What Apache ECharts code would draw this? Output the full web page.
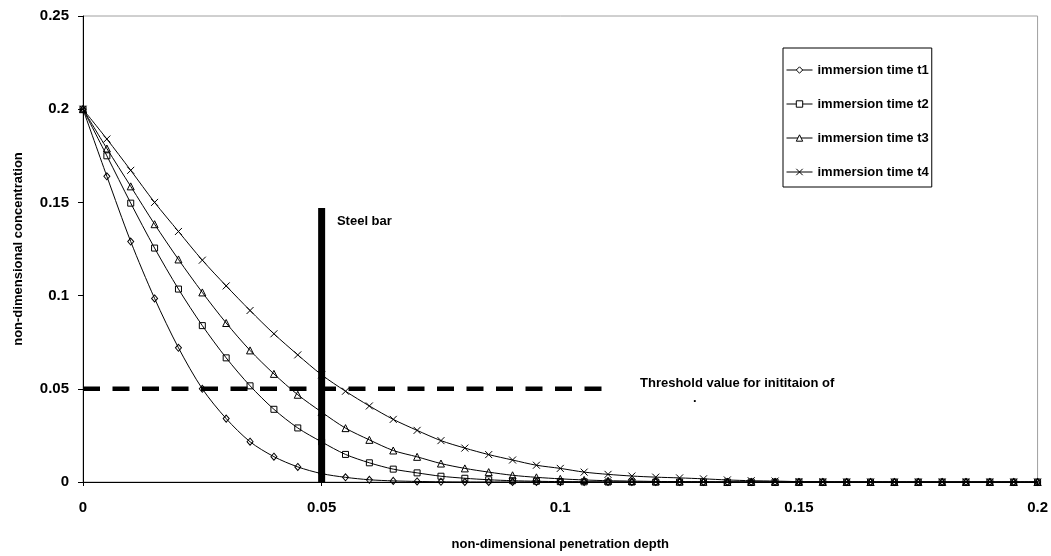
<!DOCTYPE html>
<html>
<head>
<meta charset="utf-8">
<script src="https://cdn.jsdelivr.net/npm/echarts@6/dist/echarts.min.js"></script>
<style>
  html, body { margin: 0; padding: 0; background: #fff; }
  #chart { width: 1051px; height: 556px; }
</style>
</head>
<body>
<div id="chart"></div>
<script>
// Non-dimensional penetration depth (x) sampled every 0.005
const depth = [0, 0.005, 0.01, 0.015, 0.02, 0.025, 0.03, 0.035, 0.04, 0.045,
  0.05, 0.055, 0.06, 0.065, 0.07, 0.075, 0.08, 0.085, 0.09, 0.095,
  0.1, 0.105, 0.11, 0.115, 0.12, 0.125, 0.13, 0.135, 0.14, 0.145,
  0.15, 0.155, 0.16, 0.165, 0.17, 0.175, 0.18, 0.185, 0.19, 0.195, 0.2];

// Non-dimensional concentration profiles for each immersion time
const concT1 = [0.2, 0.164, 0.129, 0.0985, 0.072, 0.05, 0.034, 0.0216, 0.0136, 0.0081,
  0.0045, 0.0025, 0.0012, 0.0006, 0.0003, 0.0001, 0, 0, 0, 0,
  0, 0, 0, 0, 0, 0, 0, 0, 0, 0,
  0, 0, 0, 0, 0, 0, 0, 0, 0, 0, 0];
const concT2 = [0.2, 0.175, 0.1496, 0.1255, 0.1035, 0.0839, 0.0666, 0.0516, 0.039, 0.029,
  0.0215, 0.0148, 0.0103, 0.0069, 0.0049, 0.0031, 0.002, 0.0012, 0.0007, 0.0004,
  0.0002, 0.0001, 0, 0, 0, 0, 0, 0, 0, 0,
  0, 0, 0, 0, 0, 0, 0, 0, 0, 0, 0];
const concT3 = [0.2, 0.1789, 0.1586, 0.1383, 0.1194, 0.1017, 0.0853, 0.0706, 0.058, 0.0468,
  0.0375, 0.0289, 0.0226, 0.0169, 0.0135, 0.0099, 0.0073, 0.0053, 0.0036, 0.0025,
  0.0017, 0.0011, 0.0007, 0.0005, 0.0003, 0.0002, 0.0001, 0, 0, 0,
  0, 0, 0, 0, 0, 0, 0, 0, 0, 0, 0];
const concT4 = [0.2, 0.184, 0.1672, 0.15, 0.1344, 0.119, 0.1052, 0.092, 0.0795, 0.0682,
  0.0575, 0.0487, 0.0408, 0.0336, 0.0277, 0.0222, 0.0182, 0.0147, 0.0118, 0.009,
  0.0073, 0.0053, 0.0041, 0.0032, 0.0026, 0.0022, 0.0017, 0.0011, 0.0007, 0.0005,
  0.0002, 0.0001, 0, 0, 0, 0, 0, 0, 0, 0, 0];

const seriesNames = ['immersion time t1', 'immersion time t2', 'immersion time t3', 'immersion time t4'];

// Reference lines: critical threshold and steel bar position
const thresholdValue = 0.05;
const thresholdDepthRange = [0, 0.11];
const steelBarDepth = 0.05;
const steelBarTop = 0.147;

// Axis ranges and tick spacing
const xAxisRange = [0, 0.2];
const yAxisRange = [0, 0.25];
const tickStep = 0.05;

const FONT = "'Liberation Sans', Arial, sans-serif";

const crossPath = 'path://M0,0L10,10M10,0L0,10';
const symbols = [
  { symbol: 'diamond', size: [6, 7] },
  { symbol: 'rect', size: 6 },
  { symbol: 'triangle', size: 7 },
  { symbol: crossPath, size: 7 }
];
const profiles = [concT1, concT2, concT3, concT4];

const hollowStyle = { color: 'rgba(255,255,255,0)', borderColor: '#000', borderWidth: 1 };

const profileSeries = profiles.map((vals, i) => ({
  name: seriesNames[i],
  type: 'line',
  data: depth.map((d, k) => [d, vals[k]]),
  smooth: 0.3,
  symbol: symbols[i].symbol,
  symbolSize: symbols[i].size,
  showAllSymbol: true,
  lineStyle: { color: '#000', width: 1 },
  itemStyle: hollowStyle,
  emphasis: { disabled: true },
  z: 3
}));

const chart = echarts.init(document.getElementById('chart'), null, { renderer: 'canvas' });

chart.setOption({
  animation: false,
  backgroundColor: '#fff',
  grid: {
    left: 83, right: 11, top: 16, bottom: 68,
    show: true, borderColor: '#a0a0a0', borderWidth: 1, backgroundColor: 'transparent'
  },
  legend: {
    data: seriesNames,
    orient: 'vertical',
    left: 783, top: 48,
    padding: [15, 3, 8, 3],
    itemGap: 20,
    itemWidth: 26,
    itemHeight: 8,
    borderColor: '#000',
    borderWidth: 1,
    backgroundColor: '#fff',
    itemStyle: { color: '#fff', borderColor: '#000', borderWidth: 1 },
    lineStyle: { color: '#000', width: 1 },
    textStyle: { fontFamily: FONT, fontWeight: 'bold', fontSize: 13, color: '#000', lineHeight: 14 },
    selectedMode: false
  },
  xAxis: {
    type: 'value',
    min: xAxisRange[0], max: xAxisRange[1], interval: tickStep,
    name: 'non-dimensional penetration depth',
    nameLocation: 'middle',
    nameGap: 56,
    nameTextStyle: { fontFamily: FONT, fontWeight: 'bold', fontSize: 13, color: '#000' },
    axisLine: { lineStyle: { color: '#000', width: 1 } },
    axisTick: { show: true, inside: false, length: 4, lineStyle: { color: '#000' } },
    axisLabel: { fontFamily: FONT, fontWeight: 'bold', fontSize: 15, color: '#000', margin: 18 },
    splitLine: { show: false }
  },
  yAxis: {
    type: 'value',
    min: yAxisRange[0], max: yAxisRange[1], interval: tickStep,
    name: 'non-dimensional concentration',
    nameLocation: 'middle',
    nameGap: 58,
    nameTextStyle: { fontFamily: FONT, fontWeight: 'bold', fontSize: 13, color: '#000' },
    axisLine: { lineStyle: { color: '#000', width: 1 } },
    axisTick: { show: true, inside: false, length: 5, lineStyle: { color: '#000' } },
    axisLabel: { fontFamily: FONT, fontWeight: 'bold', fontSize: 15, color: '#000', margin: 14 },
    splitLine: { show: false }
  },
  series: [
    {
      name: 'threshold',
      type: 'line',
      data: thresholdDepthRange.map(d => [d, thresholdValue]),
      symbol: 'none',
      lineStyle: { color: '#000', width: 4.5, type: [17, 12.5], cap: 'butt' },
      silent: true,
      z: 2
    },
    ...profileSeries,
    {
      name: 'steel bar',
      type: 'line',
      data: [[steelBarDepth, 0], [steelBarDepth, steelBarTop]],
      symbol: 'none',
      lineStyle: { color: '#000', width: 7, cap: 'butt' },
      silent: true,
      z: 4
    }
  ]
});

// Annotation labels anchored in data coordinates
const annotations = [
  { text: 'Steel bar', at: [0.0532, 0.140] },
  { text: 'Threshold value for inititaion of', at: [0.1167, 0.0528] },
  { text: '.', at: [0.1278, 0.0449] }
];

chart.setOption({
  graphic: annotations.map(a => {
    const p = chart.convertToPixel({ gridIndex: 0 }, a.at);
    return {
      type: 'text',
      x: p[0], y: p[1],
      z: 10,
      style: {
        text: a.text,
        fill: '#000',
        font: 'bold 13px ' + FONT,
        textVerticalAlign: 'middle',
        verticalAlign: 'middle'
      }
    };
  })
});
</script>
</body>
</html>
